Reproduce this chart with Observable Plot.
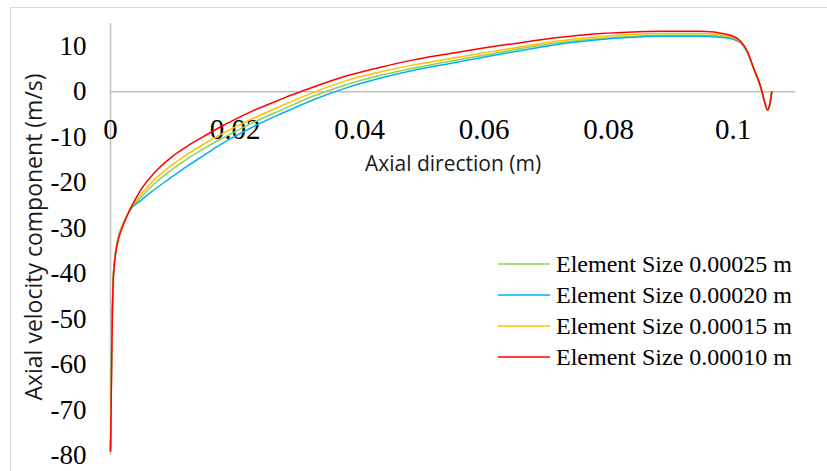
<!DOCTYPE html>
<html><head><meta charset="utf-8">
<script src="https://cdn.jsdelivr.net/npm/d3@7"></script>
<script src="https://cdn.jsdelivr.net/npm/@observablehq/plot@0.6"></script>
<style>
body{margin:0;background:#fff;}
#wrap{position:relative;width:827px;height:471px;overflow:hidden;background:#fff;}
#frame{position:absolute;left:10px;top:7px;width:900px;height:600px;border:1.5px solid #D9D9D9;box-sizing:border-box;pointer-events:none;}
#wrap svg{position:absolute;left:0;top:0;}
</style></head><body><div id="wrap"><div id="frame"></div></div>
<script>
// Series names and colours (legend order)
const seriesNames = ["Element Size 0.00025 m", "Element Size 0.00020 m", "Element Size 0.00015 m", "Element Size 0.00010 m"];
const seriesColors = ["#92D050", "#00B0F0", "#FFC000", "#FF0000"];

// Axis ticks
const xTicks = [0, 0.02, 0.04, 0.06, 0.08, 0.1];
const xTickLabels = ["0", "0.02", "0.04", "0.06", "0.08", "0.1"];
const yTicks = [-80, -70, -60, -50, -40, -30, -20, -10, 0, 10];

// Element size 0.00025 m (green)
const tGreen = [0, 0.0001, 0.0002, 0.0003, 0.0004, 0.0006, 0.0009, 0.0013, 0.0019, 0.0026, 0.0032, 0.0048, 0.007, 0.0096, 0.0125, 0.015, 0.0177, 0.0204, 0.0235, 0.0273, 0.0327, 0.038, 0.0434, 0.0487, 0.0541, 0.0616, 0.0669, 0.0723, 0.0776, 0.083, 0.0884, 0.0948, 0.0991, 0.1012, 0.1023, 0.1033, 0.1044, 0.1049, 0.1055, 0.1058, 0.1062];
const vGreen = [-79, -68, -56, -47.5, -42, -37.8, -34.5, -31.8, -29.4, -27.4, -26.0, -23.4, -20.3, -17.4, -14.6, -12.5, -10.4, -8.5, -6.4, -4.1, -0.9, 1.6, 3.6, 5.2, 6.6, 8.4, 9.7, 10.8, 11.6, 12.1, 12.4, 12.4, 12.0, 10.8, 8.6, 5.0, 1.0, -1.5, -4.0, -3.2, 0];

// Element size 0.00020 m (blue)
const tBlue = [0, 0.0001, 0.0002, 0.0003, 0.0004, 0.0006, 0.0009, 0.0013, 0.0019, 0.0026, 0.0032, 0.0048, 0.0064, 0.0096, 0.0125, 0.015, 0.0177, 0.0204, 0.0235, 0.0273, 0.0327, 0.038, 0.0434, 0.0487, 0.0541, 0.0616, 0.0669, 0.0723, 0.0776, 0.083, 0.0884, 0.0948, 0.0991, 0.1012, 0.1023, 0.1033, 0.1044, 0.1049, 0.1055, 0.1058, 0.1062];
const vBlue = [-79, -68, -56, -47.5, -42, -37.8, -34.5, -31.8, -29.4, -27.4, -25.9, -24.0, -22.2, -19.0, -16.2, -14.0, -11.6, -9.5, -7.3, -4.9, -1.7, 0.9, 3.0, 4.7, 6.1, 8.0, 9.3, 10.5, 11.3, 11.9, 12.2, 12.2, 11.8, 10.7, 8.5, 5.0, 1.0, -1.5, -4.0, -3.2, 0];

// Element size 0.00015 m (yellow)
const tYellow = [0, 0.0001, 0.0002, 0.0003, 0.0004, 0.0006, 0.0009, 0.0013, 0.0019, 0.0026, 0.003, 0.0048, 0.007, 0.0096, 0.0125, 0.015, 0.0177, 0.0204, 0.0235, 0.0273, 0.0327, 0.038, 0.0434, 0.0487, 0.0541, 0.0616, 0.0669, 0.0723, 0.0776, 0.083, 0.0884, 0.0948, 0.0991, 0.1012, 0.1023, 0.1033, 0.1044, 0.1049, 0.1055, 0.1058, 0.1062];
const vYellow = [-79, -68, -56, -47.5, -42, -37.8, -34.5, -31.8, -29.4, -27.3, -26.1, -22.8, -19.4, -16.4, -13.6, -11.5, -9.4, -7.5, -5.5, -3.2, -0.1, 2.5, 4.4, 5.9, 7.2, 8.9, 10.1, 11.2, 12.0, 12.5, 12.8, 12.8, 12.2, 10.9, 8.7, 5.0, 1.0, -1.5, -4.0, -3.2, 0];

// Element size 0.00010 m (red)
const tRed = [0, 0.0001, 0.0002, 0.0003, 0.0004, 0.0006, 0.0009, 0.0013, 0.0019, 0.0026, 0.0033, 0.004, 0.005, 0.007, 0.0096, 0.0123, 0.015, 0.0177, 0.0204, 0.023, 0.0257, 0.028, 0.0303, 0.0327, 0.038, 0.0434, 0.0487, 0.0541, 0.0594, 0.0669, 0.0723, 0.0776, 0.083, 0.0884, 0.0948, 0.0991, 0.1012, 0.1023, 0.1033, 0.1044, 0.1049, 0.1055, 0.1058, 0.1062];
const vRed = [-79, -70, -58, -49, -43, -38.5, -35, -32.3, -29.8, -27.5, -25.4, -23.6, -21.3, -17.9, -14.6, -12.0, -9.8, -7.7, -5.8, -4.1, -2.6, -1.3, -0.1, 1.1, 3.5, 5.4, 7.0, 8.3, 9.5, 11.0, 12.0, 12.7, 13.1, 13.3, 13.3, 12.6, 11.1, 8.8, 5.1, 1.1, -1.5, -4.0, -3.2, 0];

const seriesT = [tGreen, tBlue, tYellow, tRed];
const seriesV = [vGreen, vBlue, vYellow, vRed];
const rows = [];
seriesNames.forEach((s, i) => seriesT[i].forEach((t, j) => rows.push({s, t, v: seriesV[i][j]})));

const serif = "'Liberation Serif', 'Times New Roman', serif";
const sans = "'Open Sans', 'Liberation Sans', sans-serif";

const chart = Plot.plot({
  width: 827, height: 471,
  marginLeft: 110, marginRight: 32, marginTop: 23, marginBottom: 16,
  x: {domain: [0, 0.11], axis: null},
  y: {domain: [-80, 15], axis: null},
  color: {domain: seriesNames, range: seriesColors},
  style: {background: "transparent"},
  marks: [
    Plot.ruleY([0], {stroke: "#BFBFBF", strokeWidth: 1.5}),
    Plot.ruleX([0], {stroke: "#BFBFBF", strokeWidth: 1.5}),
    Plot.axisY(yTicks, {tickSize: 0, tickPadding: 24, fontSize: 27, fontFamily: serif, fill: "#000", tickFormat: d => String(d), label: null}),
    Plot.text(xTicks, {x: d => d, y: () => 0, dy: 38, text: (d, i) => xTickLabels[i], fontSize: 29, fontFamily: serif, fill: "#000"}),
    Plot.line(rows, {x: "t", y: "v", z: "s", stroke: "s", strokeWidth: 1.5, curve: "monotone-x"})
  ]
});

const svg = d3.select(chart);
svg.append("text")
  .attr("transform", "translate(33,237) rotate(-90)")
  .attr("text-anchor", "middle").attr("dominant-baseline", "central")
  .attr("font-family", sans).attr("font-size", 23).attr("fill", "#1a1a1a")
  .text("Axial velocity component (m/s)");
svg.append("text")
  .attr("x", 453).attr("y", 163)
  .attr("text-anchor", "middle").attr("dominant-baseline", "central")
  .attr("font-family", sans).attr("font-size", 21).attr("fill", "#1a1a1a")
  .text("Axial direction (m)");

const lg = svg.append("g");
seriesNames.forEach((s, i) => {
  const y = 264 + 31 * i;
  lg.append("line").attr("x1", 498).attr("x2", 550).attr("y1", y).attr("y2", y)
    .attr("stroke", seriesColors[i]).attr("stroke-width", 1.5);
  lg.append("text").attr("x", 556).attr("y", y).attr("dy", "0.33em")
    .attr("text-anchor", "start")
    .attr("font-family", serif).attr("font-size", 24).attr("fill", "#000").text(s);
});

document.getElementById("wrap").appendChild(chart);
</script>
</body></html>
